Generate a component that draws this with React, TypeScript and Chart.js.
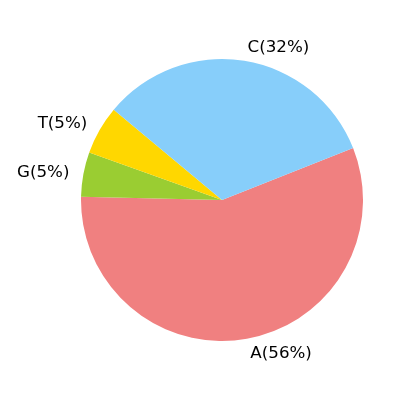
import { useEffect, useRef } from "react"
import { Chart, registerables } from "chart.js"
import type { Plugin } from "chart.js"

Chart.register(...registerables)

// slices in clockwise order, starting at the A/C boundary
const bases = ["A", "G", "T", "C"]
const shares = [56.3, 5.1, 5.6, 32.9]
const percentLabels = ["A(56%)", "G(5%)", "T(5%)", "C(32%)"]
const sliceColors = ["#f08080", "#9acd32", "#ffd700", "#87cefa"]

const outsideLabels: Plugin<"pie"> = {
  id: "outsideLabels",
  afterDatasetsDraw(chart) {
    const ctx = chart.ctx
    const meta = chart.getDatasetMeta(0)
    ctx.save()
    ctx.font = "16.7px 'DejaVu Sans'"
    ctx.fillStyle = "#000"
    ctx.textBaseline = "middle"
    meta.data.forEach((el: any, i) => {
      const mid = (el.startAngle + el.endAngle) / 2
      const r = el.outerRadius * 1.1
      const x = el.x + r * Math.cos(mid)
      const y = el.y + r * Math.sin(mid)
      ctx.textAlign = Math.cos(mid) >= 0 ? "left" : "right"
      ctx.fillText(percentLabels[i], x + (Math.cos(mid) >= 0 ? 1 : 0), y + 1)
    })
    ctx.restore()
  },
}

export default function App() {
  const canvasRef = useRef<HTMLCanvasElement>(null)

  useEffect(() => {
    if (!canvasRef.current) return
    const chart = new Chart(canvasRef.current, {
      type: "pie",
      data: {
        labels: bases,
        datasets: [
          {
            data: shares,
            backgroundColor: sliceColors,
            borderWidth: 0,
          },
        ],
      },
      options: {
        responsive: false,
        animation: false,
        rotation: 68.4,
        layout: { padding: { left: 81, right: 37, top: 59, bottom: 59 } },
        plugins: {
          legend: { display: false },
          tooltip: { enabled: false },
        },
      },
      plugins: [outsideLabels],
    })
    return () => chart.destroy()
  }, [])

  return (
    <div style={{ position: "fixed", left: 0, top: 0, width: 400, height: 400, background: "#fff" }}>
      <canvas ref={canvasRef} width={400} height={400} />
    </div>
  )
}
